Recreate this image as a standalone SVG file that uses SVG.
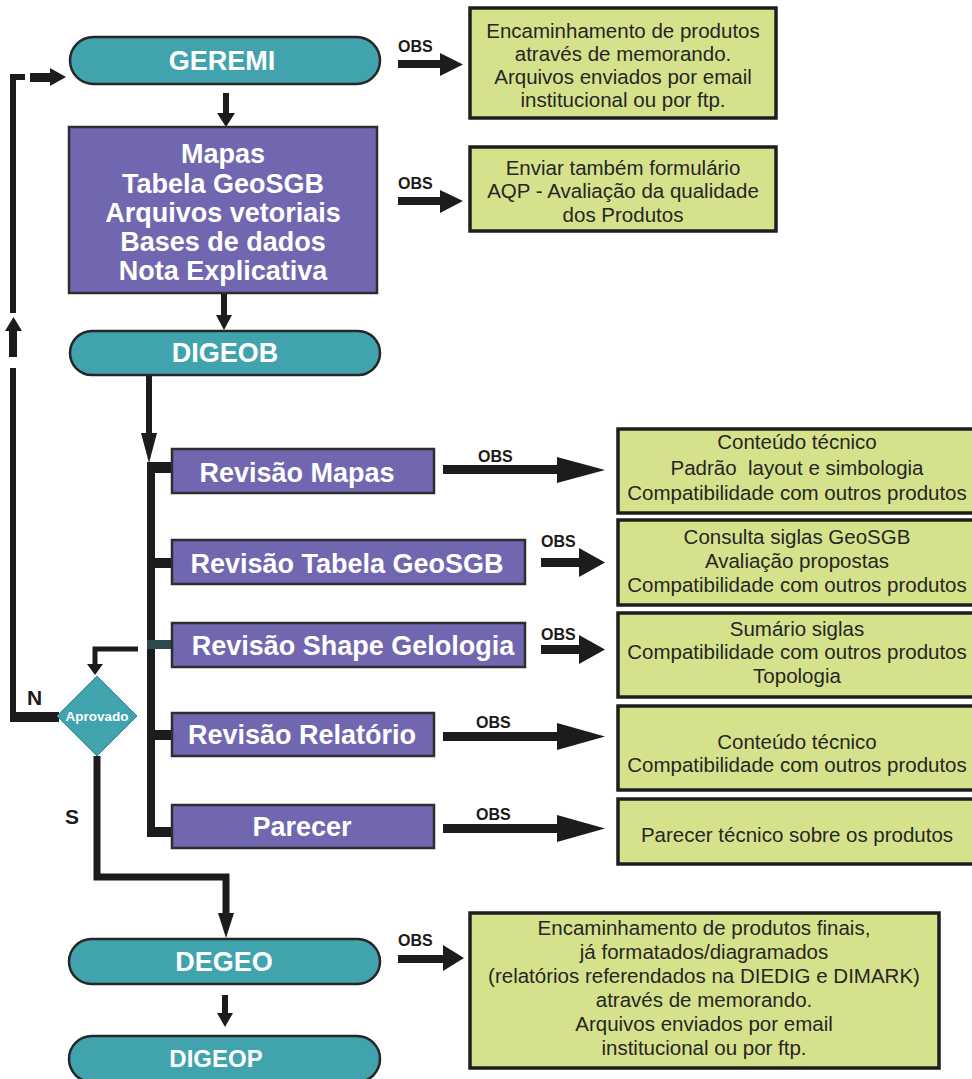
<svg xmlns="http://www.w3.org/2000/svg" width="972" height="1079" viewBox="0 0 972 1079">
<style>
text{font-family:"Liberation Sans",Arial,sans-serif}
.pill{fill:#41a3ae;stroke:#262626;stroke-width:2.5}
.pt{fill:#fff;font-weight:bold;font-size:27px;text-anchor:middle}
.pbox{fill:#7067b0;stroke:#2e2e2e;stroke-width:2.5}
.bt{fill:#fff;font-weight:bold;font-size:27px;text-anchor:middle}
.gbox{fill:#d6e28b;stroke:#1e1e1e;stroke-width:3.5}
.gt{fill:#262626;font-size:20.5px;text-anchor:middle}
.obs{fill:#1a1a1a;font-weight:bold;font-size:16px}
.ln{fill:none;stroke:#1c1c1c;stroke-linejoin:miter;stroke-linecap:butt}
.hd{fill:#1c1c1c;stroke:none}
.lbl{fill:#1c1c1c;font-weight:bold;font-size:21px}
</style>

<g id="connectors">
  <!-- GEREMI -> main -->
  <line class="ln" x1="226" y1="93" x2="226" y2="115" stroke-width="6"/>
  <polygon class="hd" points="217,113 235,113 226,127"/>
  <!-- main -> DIGEOB -->
  <line class="ln" x1="224" y1="293" x2="224" y2="317" stroke-width="6"/>
  <polygon class="hd" points="216,315 232,315 224,330"/>
  <!-- DIGEOB -> trunk -->
  <line class="ln" x1="149" y1="375" x2="149" y2="436" stroke-width="6"/>
  <polygon class="hd" points="141,433 157,433 149,463"/>
  <!-- trunk and branches -->
  <rect class="hd" x="147" y="462" width="8" height="375"/>
  <rect class="hd" x="147" y="462" width="26" height="11"/>
  <rect class="hd" x="147" y="558" width="26" height="10"/>
  <rect x="147" y="640" width="26" height="9" fill="#2d4a50"/>
  <rect class="hd" x="147" y="730" width="26" height="10"/>
  <rect class="hd" x="147" y="827" width="26" height="10"/>
  <!-- Shape -> Aprovado -->
  <polyline class="ln" points="138,649 95,649 95,666" stroke-width="5"/>
  <polygon class="hd" points="87,664 103,664 95,675"/>
  <!-- N branch back to GEREMI -->
  <line class="ln" x1="10" y1="717" x2="59" y2="717" stroke-width="10"/>
  <line class="ln" x1="13" y1="722" x2="13" y2="368" stroke-width="6"/>
  <rect class="hd" x="9" y="329" width="8" height="28"/>
  <polygon class="hd" points="5,331 22,331 13.5,317"/>
  <polyline class="ln" points="13,313 13,77 25,77" stroke-width="6"/>
  <rect class="hd" x="30" y="73" width="21" height="9"/>
  <polygon class="hd" points="50,68 50,86 66,77"/>
  <!-- S branch to DEGEO -->
  <polyline class="ln" points="97,756 97,877 226,877 226,915" stroke-width="7"/>
  <polygon class="hd" points="218,913 234,913 226,938"/>
  <!-- DEGEO -> DIGEOP -->
  <line class="ln" x1="225" y1="995" x2="225" y2="1015" stroke-width="6"/>
  <polygon class="hd" points="217,1013 233,1013 225,1027"/>

  <!-- OBS arrows -->
  <rect class="hd" x="398" y="60" width="43" height="8"/>
  <polygon class="hd" points="440,53 440,76 463,64.5"/>
  <text class="obs" x="398" y="52">OBS</text>

  <rect class="hd" x="398" y="197" width="43" height="8"/>
  <polygon class="hd" points="440,190 440,213 463,201"/>
  <text class="obs" x="398" y="189">OBS</text>

  <rect class="hd" x="443" y="465" width="115" height="9"/>
  <polygon class="hd" points="557,457 557,483 605,470"/>
  <text class="obs" x="478" y="462">OBS</text>

  <rect class="hd" x="541" y="558" width="39" height="9"/>
  <polygon class="hd" points="579,548 579,577 605,562.5"/>
  <text class="obs" x="541" y="547">OBS</text>

  <rect class="hd" x="541" y="645" width="39" height="9"/>
  <polygon class="hd" points="579,635 579,664 605,649.5"/>
  <text class="obs" x="541" y="640">OBS</text>

  <rect class="hd" x="443" y="732" width="115" height="9"/>
  <polygon class="hd" points="557,723 557,750 605,736.5"/>
  <text class="obs" x="476" y="728">OBS</text>

  <rect class="hd" x="443" y="824" width="115" height="9"/>
  <polygon class="hd" points="557,815 557,842 605,828.5"/>
  <text class="obs" x="476" y="820">OBS</text>

  <rect class="hd" x="398" y="955" width="46" height="8"/>
  <polygon class="hd" points="443,945 443,971 464,958"/>
  <text class="obs" x="398" y="946">OBS</text>
</g>

<g id="geremi">
  <rect class="pill" x="70" y="37" width="310" height="47" rx="23.5"/>
  <text class="pt" x="222" y="70">GEREMI</text>
</g>

<g id="produtos">
  <rect class="pbox" x="69" y="127" width="308" height="166"/>
  <text class="bt" x="223" y="163">Mapas</text>
  <text class="bt" x="223" y="193">Tabela GeoSGB</text>
  <text class="bt" x="223" y="222">Arquivos vetoriais</text>
  <text class="bt" x="223" y="251">Bases de dados</text>
  <text class="bt" x="223" y="280">Nota Explicativa</text>
</g>

<g id="digeob">
  <rect class="pill" x="70" y="331" width="310" height="44" rx="22"/>
  <text class="pt" x="225" y="362">DIGEOB</text>
</g>

<g id="obs-geremi">
  <rect class="gbox" x="470" y="8" width="306" height="110"/>
  <text class="gt" x="623" y="38">Encaminhamento de produtos</text>
  <text class="gt" x="623" y="61">através de memorando.</text>
  <text class="gt" x="623" y="84">Arquivos enviados por email</text>
  <text class="gt" x="623" y="107">institucional ou por ftp.</text>
</g>

<g id="obs-produtos">
  <rect class="gbox" x="470" y="147" width="306" height="84"/>
  <text class="gt" x="623" y="175">Enviar também formulário</text>
  <text class="gt" x="623" y="198">AQP - Avaliação da qualidade</text>
  <text class="gt" x="623" y="222">dos Produtos</text>
</g>

<g id="rev-mapas">
  <rect class="pbox" x="172" y="449" width="262" height="44"/>
  <text class="bt" x="297" y="482">Revisão Mapas</text>
</g>
<g id="rev-tabela">
  <rect class="pbox" x="172" y="540" width="353" height="44"/>
  <text class="bt" x="347" y="573">Revisão Tabela GeoSGB</text>
</g>
<g id="rev-shape">
  <rect class="pbox" x="172" y="623" width="353" height="44"/>
  <text class="bt" x="353" y="655">Revisão Shape Gelologia</text>
</g>
<g id="rev-relatorio">
  <rect class="pbox" x="172" y="713" width="262" height="43"/>
  <text class="bt" x="302" y="744">Revisão Relatório</text>
</g>
<g id="parecer">
  <rect class="pbox" x="172" y="805" width="262" height="43"/>
  <text class="bt" x="302" y="836">Parecer</text>
</g>

<g id="obs-mapas">
  <rect class="gbox" x="618" y="429" width="358" height="84"/>
  <text class="gt" x="797" y="449">Conteúdo técnico</text>
  <text class="gt" x="797" y="475" xml:space="preserve">Padrão  layout e simbologia</text>
  <text class="gt" x="797" y="500">Compatibilidade com outros produtos</text>
</g>
<g id="obs-tabela">
  <rect class="gbox" x="618" y="520" width="358" height="85"/>
  <text class="gt" x="797" y="544">Consulta siglas GeoSGB</text>
  <text class="gt" x="797" y="568">Avaliação propostas</text>
  <text class="gt" x="797" y="592">Compatibilidade com outros produtos</text>
</g>
<g id="obs-shape">
  <rect class="gbox" x="618" y="613" width="358" height="84"/>
  <text class="gt" x="797" y="636">Sumário siglas</text>
  <text class="gt" x="797" y="659">Compatibilidade com outros produtos</text>
  <text class="gt" x="797" y="683">Topologia</text>
</g>
<g id="obs-relatorio">
  <rect class="gbox" x="618" y="706" width="358" height="84"/>
  <text class="gt" x="797" y="749">Conteúdo técnico</text>
  <text class="gt" x="797" y="772">Compatibilidade com outros produtos</text>
</g>
<g id="obs-parecer">
  <rect class="gbox" x="618" y="799" width="358" height="65"/>
  <text class="gt" x="797" y="842">Parecer técnico sobre os produtos</text>
</g>

<g id="aprovado">
  <polygon points="97,676 137,716 97,756 57,716" fill="#41a3ae" stroke="#2f8590" stroke-width="1"/>
  <text x="97" y="721" fill="#fff" font-weight="bold" font-size="13.5" text-anchor="middle">Aprovado</text>
</g>
<text class="lbl" x="27" y="705">N</text>
<text class="lbl" x="65" y="824">S</text>

<g id="degeo">
  <rect class="pill" x="69" y="939" width="311" height="45" rx="22.5"/>
  <text class="pt" x="224" y="971">DEGEO</text>
</g>
<g id="digeop">
  <rect class="pill" x="69" y="1036" width="311" height="46" rx="23"/>
  <text class="pt" x="216" y="1067" style="font-size:24px">DIGEOP</text>
</g>

<g id="obs-degeo">
  <rect class="gbox" x="470" y="913" width="469" height="155"/>
  <text class="gt" x="704" y="935">Encaminhamento de produtos finais,</text>
  <text class="gt" x="704" y="959">já formatados/diagramados</text>
  <text class="gt" x="704" y="983">(relatórios referendados na DIEDIG e DIMARK)</text>
  <text class="gt" x="704" y="1007">através de memorando.</text>
  <text class="gt" x="704" y="1031">Arquivos enviados por email</text>
  <text class="gt" x="704" y="1055">institucional ou por ftp.</text>
</g>
</svg>
